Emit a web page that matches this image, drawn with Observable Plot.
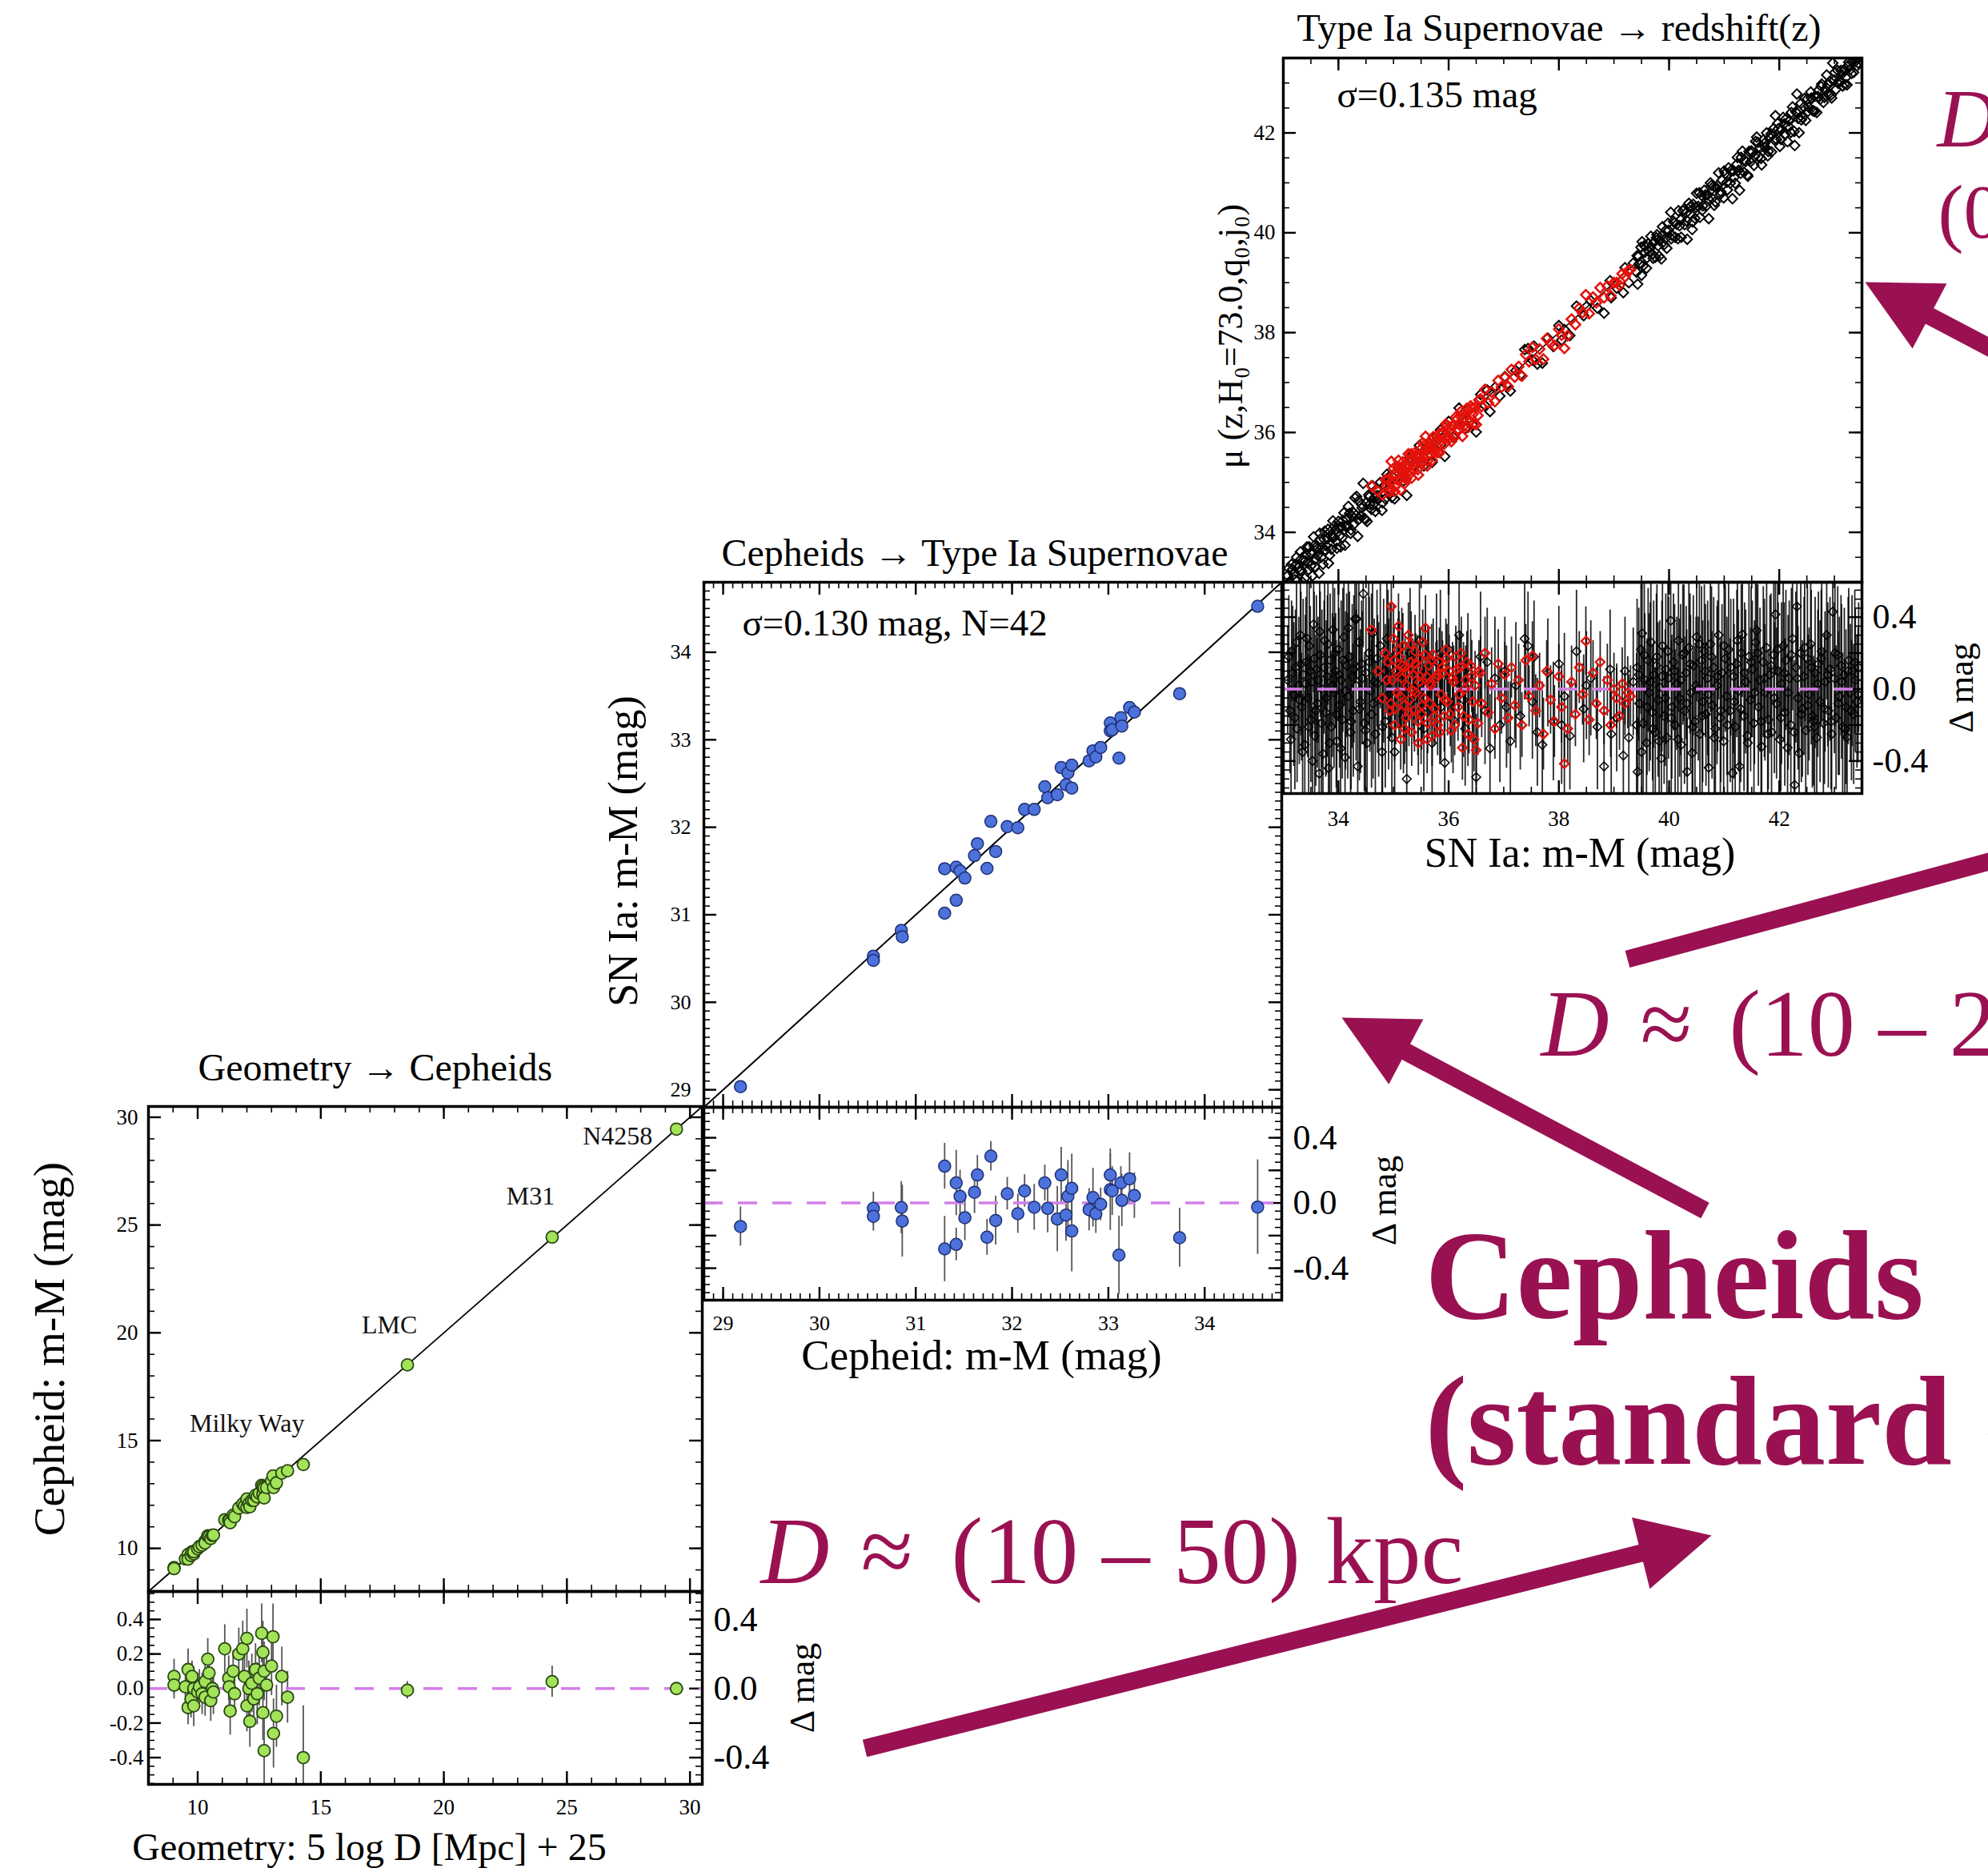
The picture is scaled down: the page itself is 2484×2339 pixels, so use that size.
<!DOCTYPE html>
<html><head><meta charset="utf-8">
<script src="https://cdn.jsdelivr.net/npm/d3@7"></script>
<script src="https://cdn.jsdelivr.net/npm/@observablehq/plot@0.6"></script>
<style>
html,body{margin:0;padding:0;background:#fff;}
#fig{position:relative;width:2484px;height:2339px;overflow:hidden;background:#fff;}
</style></head><body><div id="fig"></div>
<script>
// ---------------- DATA ----------------
// Panel 1: Geometry -> Cepheids  [geometric distance, residual, error]
const geoMilkyWay = [
[9.04,0.07,0.1],[9.04,0.02,0.08],[9.5,0.01,0.09],[9.61,0.11,0.12],[9.61,-0.11,0.1],[9.73,-0.06,0.11],[9.77,0.07,0.09],
[9.84,-0.1,0.12],[9.84,0.0,0.1],[10.0,-0.02,0.11],[10.07,0.01,0.1],[10.18,-0.03,0.12],[10.3,0.04,0.1],[10.3,-0.05,0.11],
[10.41,0.17,0.12],[10.46,0.09,0.1],[10.53,-0.07,0.12],[10.6,0.0,0.11],[10.64,-0.02,0.13],[11.1,0.23,0.14],[11.26,0.06,0.13],
[11.28,0.01,0.12],[11.32,-0.13,0.14],[11.44,0.1,0.12],[11.5,-0.03,0.13],[11.67,0.2,0.15],[11.83,0.23,0.16],[11.9,0.07,0.14],
[12.0,0.29,0.17],[12.0,-0.1,0.15],[12.08,0.0,0.16],[12.12,-0.19,0.15],[12.2,0.03,0.17],[12.28,-0.06,0.16],[12.35,0.11,0.15],
[12.42,-0.03,0.18],[12.5,0.06,0.16],[12.6,0.32,0.17],[12.65,0.21,0.18],[12.65,-0.14,0.16],[12.7,0.1,0.17],[12.7,-0.36,0.2],
[12.8,0.02,0.18],[13.0,0.13,0.17],[13.06,0.3,0.19],[13.08,-0.26,0.2],[13.2,-0.16,0.18],[13.42,0.07,0.17],[13.65,-0.05,0.15],
[14.29,-0.4,0.3]
];
const geoAnchors = [[18.52,-0.01,0.05],[24.4,0.04,0.09],[29.45,0.0,0.03]];
const geoLabelNames = ["N4258","M31","LMC","Milky Way"];
const geoLabelX = [28.48,24.51,18.92,14.34];
const geoLabelY = [28.74,25.94,19.96,15.39];

// Panel 2: Cepheids -> SN Ia  [Cepheid m-M, residual, error]
const cephSN = [
[29.18,-0.144,0.12],[30.56,-0.033,0.1],[30.56,-0.082,0.09],[30.85,-0.028,0.16],[30.86,-0.111,0.22],[31.3,0.226,0.14],
[31.3,-0.282,0.2],[31.42,0.123,0.2],[31.42,-0.254,0.1],[31.46,0.041,0.16],[31.51,-0.09,0.14],[31.61,0.066,0.13],
[31.64,0.172,0.12],[31.74,-0.21,0.11],[31.78,0.287,0.09],[31.83,-0.107,0.15],[31.95,0.057,0.1],[32.06,-0.066,0.12],
[32.13,0.074,0.1],[32.23,-0.026,0.14],[32.34,0.123,0.11],[32.37,-0.033,0.15],[32.47,-0.098,0.2],[32.51,0.172,0.17],
[32.56,-0.074,0.16],[32.58,0.041,0.22],[32.62,-0.172,0.25],[32.62,0.09,0.21],[32.8,-0.041,0.13],[32.84,0.033,0.18],
[32.87,-0.066,0.12],[32.92,-0.008,0.1],[33.02,0.172,0.13],[33.02,0.082,0.25],[33.04,0.074,0.15],[33.11,-0.32,0.24],
[33.13,0.123,0.1],[33.14,0.016,0.16],[33.22,0.148,0.16],[33.27,0.046,0.14],[33.74,-0.213,0.18],[34.55,-0.025,0.29]
];

// Panel 3: SN Ia -> redshift  [SN m-M, residual, error]
const snBlack = [
[33.08,0.05,0.3],[33.12,-0.12,0.35],[33.15,0.21,0.28],[33.19,-0.03,0.4],[33.22,0.12,0.32],[33.25,-0.22,0.3],[33.28,0.02,0.38],
[33.31,0.3,0.35],[33.33,-0.1,0.3],[33.36,0.08,0.42],[33.39,-0.31,0.3],[33.41,0.15,0.36],[33.44,-0.05,0.33],[33.47,0.24,0.4],
[33.5,-0.17,0.35],[33.52,0.04,0.3],[33.55,0.36,0.38],[33.57,-0.26,0.34],[33.6,0.11,0.41],[33.62,-0.08,0.36],[33.65,-0.47,0.3],
[33.67,0.19,0.35],[33.7,0.0,0.44],[33.72,-0.36,0.33],[33.75,0.27,0.38],[33.77,-0.13,0.36],[33.8,0.07,0.45],[33.82,-0.44,0.3],
[33.85,0.16,0.37],[33.87,-0.21,0.4],[33.9,0.33,0.36],[33.92,-0.02,0.42],[33.95,0.1,0.32],[33.97,-0.29,0.38],[34.0,0.22,0.4],
[34.02,-0.09,0.35],[34.05,0.05,0.44],[34.07,-0.17,0.33],[34.1,0.29,0.38],[34.12,-0.38,0.35],[34.15,0.13,0.4],[34.17,-0.04,0.46],
[34.2,0.18,0.36],[34.22,-0.24,0.34],[34.25,0.07,0.4],[34.27,-0.12,0.37],[34.3,0.39,0.36],[34.32,0.02,0.42],[34.35,-0.43,0.3],
[34.37,0.26,0.38],[34.4,-0.07,0.4],[34.42,0.14,0.35],[34.45,0.53,0.3],[34.47,-0.19,0.38],[34.5,0.09,0.42],[34.52,-0.3,0.36],
[34.55,0.2,0.4],[34.57,-0.01,0.34],[34.6,-0.14,0.41],[34.62,0.31,0.37],[34.65,0.04,0.35],[34.67,-0.25,0.4],[34.7,0.17,0.38],
[34.73,-0.06,0.43],[34.76,0.24,0.35],[34.79,-0.35,0.33],[34.82,0.1,0.4],[34.85,-0.18,0.37],[34.88,0.28,0.36],[34.91,-0.03,0.42],
[34.94,0.12,0.35],[34.97,-0.27,0.38],
[33.1,0.18,0.34],[33.14,-0.28,0.3],[33.17,0.09,0.37],[33.21,-0.16,0.4],[33.24,0.26,0.33],[33.29,-0.06,0.36],[33.32,0.14,0.4],
[33.35,-0.35,0.32],[33.4,0.03,0.38],[33.43,0.28,0.35],[33.46,-0.21,0.4],[33.49,0.1,0.36],[33.53,-0.4,0.3],[33.56,0.17,0.37],
[33.59,-0.12,0.42],[33.63,0.05,0.35],[33.66,0.32,0.33],[33.69,-0.19,0.4],[33.74,0.12,0.37],[33.78,-0.05,0.43],[33.81,0.25,0.34],
[33.84,-0.3,0.38],[33.89,0.02,0.4],[33.93,0.2,0.36],[33.96,-0.14,0.41],[34.01,0.08,0.37],[34.04,-0.33,0.33],[34.08,0.16,0.4],
[34.13,-0.01,0.44],[34.18,0.34,0.35],[34.23,-0.18,0.38],[34.28,0.11,0.41],[34.33,0.39,0.34],[34.38,-0.11,0.4],[34.43,0.06,0.37],
[34.49,-0.23,0.39],[34.56,0.15,0.36],[34.63,-0.08,0.42],[34.71,0.03,0.38],[34.8,-0.21,0.4],[34.9,0.19,0.36],
[35.02,-0.35,0.3],[35.1,0.08,0.35],[35.15,0.12,0.33],[35.18,-0.15,0.32],[35.24,-0.5,0.28],[35.3,0.2,0.36],[35.38,-0.05,0.3],
[35.47,0.27,0.33],[35.5,-0.12,0.3],[35.55,-0.22,0.35],[35.62,0.05,0.3],[35.7,-0.3,0.32],[35.78,0.15,0.38],[35.85,0.2,0.35],
[35.86,-0.1,0.3],[35.93,-0.41,0.3],[36.0,0.22,0.34],[36.08,-0.17,0.3],[36.19,0.3,0.35],[36.27,-0.06,0.32],[36.3,-0.22,0.32],
[36.35,0.12,0.3],[36.43,-0.27,0.33],[36.5,-0.49,0.28],[36.58,0.18,0.36],[36.66,-0.12,0.3],[36.7,0.15,0.3],[36.75,-0.33,0.3],
[36.84,0.06,0.34],[36.93,-0.2,0.32],[37.02,0.1,0.3],[37.05,-0.1,0.34],[37.12,-0.29,0.33],[37.22,0.02,0.35],[37.3,-0.15,0.3],
[37.38,0.28,0.34],[37.44,0.24,0.3],[37.52,-0.07,0.32],[37.55,0.18,0.31],[37.61,-0.24,0.3],[37.7,-0.31,0.35],[37.8,0.09,0.3],
[37.9,-0.18,0.33],[38.0,0.14,0.32],[38.05,-0.2,0.33],[38.1,-0.04,0.35],[38.2,-0.26,0.3],[38.32,0.21,0.34],[38.45,-0.11,0.3],
[38.5,0.02,0.3],[38.58,0.06,0.32],[38.7,-0.21,0.35],[38.82,-0.43,0.3],[38.93,0.11,0.33],[38.95,-0.25,0.34],[39.05,-0.16,0.3],
[39.17,-0.37,0.32],[39.2,0.1,0.3],[39.27,-0.27,0.35],[39.35,0.04,0.3],
[39.42,0.12,0.38],[39.43,-0.46,0.3],[39.46,-0.08,0.4],[39.49,0.22,0.36],[39.51,0.31,0.32],[39.53,-0.19,0.42],[39.56,0.05,0.37],
[39.59,-0.3,0.35],[39.62,0.16,0.4],[39.64,-0.02,0.44],[39.67,0.26,0.36],[39.7,-0.13,0.38],[39.72,0.08,0.41],[39.75,-0.24,0.36],
[39.78,0.18,0.4],[39.8,-0.06,0.43],[39.83,0.01,0.37],[39.86,-0.385,0.32],[39.88,0.24,0.4],[39.91,-0.15,0.38],[39.94,0.11,0.42],
[39.96,-0.27,0.36],[39.99,0.06,0.45],[40.03,0.38,0.34],[40.05,-0.1,0.4],[40.08,0.15,0.38],[40.11,-0.2,0.42],[40.14,0.03,0.37],
[40.17,0.27,0.4],[40.19,-0.05,0.44],[40.22,-0.31,0.35],[40.25,0.19,0.39],[40.28,-0.12,0.41],[40.31,0.09,0.37],[40.33,-0.46,0.3],
[40.36,0.23,0.4],[40.39,-0.02,0.43],[40.42,-0.356,0.33],[40.44,0.13,0.39],[40.47,-0.18,0.42],[40.5,0.29,0.36],[40.53,0.0,0.4],
[40.56,-0.25,0.38],[40.59,0.16,0.41],[40.61,-0.07,0.45],[40.64,0.21,0.37],[40.67,-0.14,0.4],[40.7,0.06,0.43],[40.72,-0.437,0.3],
[40.75,0.25,0.38],[40.78,-0.09,0.41],[40.81,0.12,0.39],[40.84,-0.22,0.4],[40.87,0.02,0.44],[40.9,0.3,0.36],[40.93,-0.16,0.42],
[40.96,0.09,0.38],[40.99,-0.29,0.36],[41.02,0.17,0.41],[41.05,-0.04,0.44],[41.08,0.22,0.37],[41.11,-0.12,0.4],[41.15,-0.467,0.3],
[41.17,0.07,0.43],[41.2,-0.21,0.38],[41.23,0.14,0.41],[41.26,-0.01,0.45],[41.28,-0.43,0.32],[41.31,0.2,0.38],[41.33,0.304,0.35],
[41.36,-0.15,0.42],[41.39,0.04,0.4],[41.42,-0.26,0.37],[41.45,0.18,0.43],[41.48,-0.06,0.4],[41.51,0.11,0.38],[41.54,-0.19,0.41],
[41.57,0.26,0.37],[41.59,0.326,0.34],[41.62,-0.1,0.44],[41.65,0.05,0.4],[41.68,-0.32,0.36],[41.71,0.15,0.42],[41.74,-0.02,0.38],
[41.77,0.23,0.41],[41.8,-0.17,0.39],[41.83,0.08,0.44],[41.86,-0.24,0.37],[41.9,0.19,0.4],[41.93,0.415,0.34],[41.95,-0.08,0.42],
[41.98,0.1,0.38],[42.01,-0.28,0.4],[42.04,0.03,0.45],[42.07,0.24,0.37],[42.1,-0.13,0.41],[42.12,0.16,0.39],[42.15,-0.326,0.34],
[42.18,0.06,0.43],[42.21,-0.2,0.38],[42.24,0.28,0.4],[42.28,-0.533,0.3],[42.3,0.12,0.42],[42.32,0.459,0.32],[42.34,-0.05,0.4],
[42.36,-0.356,0.34],[42.39,0.2,0.41],[42.42,-0.11,0.38],[42.45,0.07,0.44],[42.48,-0.23,0.39],[42.51,0.17,0.41],[42.54,-0.03,0.37],
[42.57,0.25,0.43],[42.6,-0.15,0.4],[42.62,-0.178,0.36],[42.65,0.09,0.42],[42.68,-0.27,0.38],[42.71,0.14,0.4],[42.74,-0.07,0.45],
[42.77,0.21,0.38],[42.8,-0.19,0.41],[42.83,0.04,0.39],[42.86,0.3,0.36],[42.89,-0.12,0.43],[42.92,0.11,0.4],[42.95,-0.25,0.38],
[42.97,0.43,0.32],[43.0,0.06,0.42],[43.03,-0.16,0.4],[43.06,0.19,0.38],[43.09,-0.04,0.44],[43.12,0.13,0.39],[43.15,-0.21,0.41],
[43.18,0.08,0.37],[43.21,-0.1,0.43],[43.23,-0.267,0.35],[43.26,0.16,0.4],[43.29,-0.02,0.38],[43.32,0.1,0.42],[43.35,-0.14,0.39],
[43.38,0.05,0.4],[43.41,-0.07,0.37],[43.44,0.12,0.36],
[39.41,-0.2,0.4],[39.45,0.08,0.37],[39.5,-0.35,0.34],[39.55,0.19,0.41],[39.6,-0.1,0.38],[39.66,0.04,0.44],[39.71,-0.22,0.39],
[39.77,0.13,0.4],[39.82,-0.29,0.36],[39.87,0.07,0.42],[39.93,-0.05,0.38],[39.98,0.21,0.4],[40.04,-0.16,0.43],[40.1,0.1,0.37],
[40.16,-0.28,0.4],[40.21,0.05,0.42],[40.27,0.2,0.38],[40.32,-0.08,0.41],[40.38,0.14,0.39],[40.43,-0.21,0.42],[40.49,0.02,0.38],
[40.55,0.25,0.4],[40.6,-0.15,0.43],[40.66,0.1,0.37],[40.71,-0.03,0.41],[40.77,0.18,0.39],[40.82,-0.27,0.36],[40.88,0.07,0.42],
[40.94,-0.12,0.4],[41.0,0.24,0.37],[41.06,-0.2,0.41],[41.12,0.12,0.38],[41.18,-0.07,0.43],[41.24,0.27,0.36],[41.3,-0.11,0.41],
[41.37,0.09,0.39],[41.43,-0.3,0.37],[41.49,0.15,0.42],[41.55,-0.02,0.4],[41.61,0.2,0.38],[41.67,-0.18,0.41],[41.73,0.06,0.44],
[41.79,-0.25,0.37],[41.85,0.13,0.4],[41.91,-0.05,0.42],[41.97,0.22,0.38],[42.03,-0.16,0.41],[42.09,0.09,0.39],[42.16,-0.02,0.43],
[42.22,0.19,0.37],[42.27,-0.24,0.4],[42.33,0.06,0.42],[42.4,-0.14,0.38],[42.46,0.23,0.41],[42.52,-0.09,0.39],[42.58,0.12,0.43],
[42.64,-0.21,0.37],[42.7,0.03,0.41],[42.76,0.17,0.38],[42.82,-0.11,0.42],[42.88,0.08,0.4],[42.94,-0.18,0.38],[43.01,0.2,0.41],
[43.07,-0.08,0.4],[43.13,0.04,0.43],[43.19,-0.22,0.38],[43.25,0.1,0.41],[43.31,-0.12,0.39],[43.37,0.15,0.4],[43.43,-0.03,0.38]
];
const snRed = [
[34.6,0.33,0.2],[34.72,0.1,0.18],[34.8,-0.05,0.2],[34.85,0.2,0.16],[34.9,0.15,0.2],[34.93,-0.12,0.17],[34.96,0.459,0.18],
[34.98,0.05,0.2],[35.0,0.28,0.19],[35.02,-0.2,0.2],[35.05,0.1,0.17],[35.07,-0.02,0.2],[35.09,0.35,0.18],[35.11,0.18,0.2],
[35.13,-0.28,0.17],[35.15,0.06,0.2],[35.17,0.24,0.18],[35.19,-0.09,0.2],[35.21,0.12,0.17],[35.23,-0.16,0.19],[35.25,0.02,0.2],
[35.27,0.3,0.18],[35.29,-0.06,0.2],[35.31,0.15,0.17],[35.33,-0.24,0.19],[35.35,0.08,0.2],[35.37,-0.12,0.18],[35.39,0.21,0.2],
[35.41,-0.02,0.17],[35.43,0.11,0.19],[35.45,-0.3,0.18],[35.47,0.04,0.2],[35.49,0.17,0.17],[35.51,-0.14,0.2],[35.53,0.26,0.18],
[35.55,-0.05,0.19],[35.58,0.34,0.18],[35.6,0.07,0.2],[35.62,-0.19,0.17],[35.64,0.13,0.2],[35.66,-0.08,0.18],[35.68,0.02,0.19],
[35.7,-0.26,0.17],[35.72,0.19,0.2],[35.75,-0.11,0.18],[35.77,0.06,0.2],[35.8,-0.2,0.17],[35.83,0.15,0.19],[35.86,-0.03,0.2],
[35.89,0.09,0.18],[35.92,-0.15,0.2],[35.95,0.22,0.17],[35.98,-0.07,0.19],[36.01,0.1,0.2],[36.05,-0.23,0.18],[36.09,0.04,0.2],
[36.13,0.18,0.17],[36.17,-0.1,0.19],[36.21,0.12,0.2],[36.25,-0.326,0.18],[36.29,0.0,0.2],[36.33,0.15,0.17],[36.37,-0.17,0.19],
[36.42,0.07,0.2],[36.46,-0.28,0.18],[36.5,-0.34,0.2],[36.55,0.1,0.17],[36.6,-0.08,0.19],[36.66,0.2,0.2],[36.72,-0.13,0.18],
[36.78,0.03,0.2],[36.84,-0.22,0.17],[36.9,0.14,0.19],[36.96,-0.05,0.2],[37.02,0.08,0.18],[37.08,-0.16,0.2],[37.14,0.12,0.17],
[37.2,-0.09,0.19],[37.27,0.05,0.2],[37.33,-0.2,0.18],[37.4,0.16,0.2],[37.46,-0.04,0.17],[37.52,0.185,0.19],[37.58,-0.12,0.2],
[37.65,0.02,0.18],[37.72,-0.25,0.2],[37.78,0.1,0.17],[37.85,-0.06,0.19],[37.92,-0.18,0.2],[38.0,0.07,0.18],[38.05,-0.1,0.2],
[38.1,-0.415,0.17],[38.16,-0.22,0.19],[38.23,0.04,0.2],[38.3,-0.14,0.18],[38.37,0.12,0.2],[38.43,-0.03,0.17],[38.49,0.267,0.19],
[38.55,-0.17,0.2],[38.62,0.09,0.18],[38.68,-0.08,0.2],[38.75,0.15,0.17],[38.82,-0.12,0.19],[38.88,0.05,0.2],[38.94,-0.2,0.18],
[39.0,0.0,0.2],[39.05,-0.05,0.17],[39.1,-0.15,0.19],[39.15,0.03,0.2],[39.2,-0.08,0.18],[39.25,-0.02,0.2],[39.3,-0.04,0.17],
[34.88,0.05,0.17],[34.95,-0.08,0.19],[35.01,0.16,0.18],[35.04,-0.11,0.2],[35.08,0.22,0.17],[35.12,-0.04,0.19],[35.16,0.13,0.18],
[35.2,-0.22,0.2],[35.24,0.09,0.17],[35.28,-0.13,0.19],[35.32,0.25,0.18],[35.36,-0.01,0.2],[35.4,0.14,0.17],[35.44,-0.18,0.19],
[35.48,0.07,0.18],[35.52,-0.09,0.2],[35.57,0.19,0.17],[35.61,-0.28,0.19],[35.65,0.03,0.18],[35.69,0.16,0.2],[35.74,-0.15,0.17],
[35.79,0.08,0.19],[35.84,-0.24,0.18],[35.88,0.12,0.2],[35.93,-0.06,0.17],[35.97,0.17,0.19],[36.03,-0.14,0.18],[36.07,0.06,0.2],
[36.11,-0.2,0.17],[36.15,0.11,0.19],[36.19,-0.03,0.18],[36.23,0.2,0.2],[36.27,-0.15,0.17],[36.31,0.05,0.19],[36.35,-0.25,0.18],
[36.4,0.13,0.2],[36.44,-0.07,0.17],[36.48,0.02,0.19],[36.53,-0.19,0.18],[36.58,0.09,0.2]
];

// axis domains & tick labels
const p1Domain = [8, 30.5], p1Resid = [-0.555, 0.562];
const p2Domain = [28.8, 34.8], p2Resid = [-0.596, 0.587];
const p3Domain = [33, 43.5], p3Resid = [-0.581, 0.594];
const p1Ticks = [10, 15, 20, 25, 30];
const p2Ticks = [29, 30, 31, 32, 33, 34];
const p3Ticks = [34, 36, 38, 40, 42];
const residTicksLeft = [-0.4, -0.2, 0, 0.2, 0.4];
const residTicksRight = [-0.4, 0, 0.4];

const titles = ["Geometry \u2192 Cepheids", "Cepheids \u2192 Type Ia Supernovae", "Type Ia Supernovae \u2192 redshift(z)"];
const sigmaTexts = ["\u03c3=0.130 mag, N=42", "\u03c3=0.135 mag"];

// annotation (magenta) texts & arrows, page pixel coordinates
const annotTexts = [
  {text: "D", x: 2420, y: 182, size: 104, style: "italic"},
  {text: "(0.05 \u2013 1.5) Gpc", x: 2421, y: 296, size: 96},
  {text: "D", x: 1925, y: 1318, size: 118, style: "italic"},
  {text: "\u2248", x: 2049, y: 1318, size: 118},
  {text: "(10 \u2013 20) Mpc", x: 2160, y: 1318, size: 118},
  {text: "Cepheids", x: 1780, y: 1646, size: 158, weight: "bold"},
  {text: "(standard candles)", x: 1780, y: 1828, size: 158, weight: "bold"},
  {text: "D", x: 950, y: 1977, size: 119, style: "italic"},
  {text: "\u2248", x: 1075, y: 1977, size: 119},
  {text: "(10 \u2013 50)", x: 1188, y: 1977, size: 119},
  {text: "kpc", x: 1656, y: 1977, size: 119}
];
const annotArrows = [
  {id: "a1", tail: [2600, 494], tip: [2330, 352]},
  {id: "a2", tail: [2033, 1198], tip: [2700, 1018]},
  {id: "a3", tail: [2130, 1512], tip: [1676, 1271]},
  {id: "a4", tail: [1080, 2184], tip: [2138, 1918]}
];

// ---------------- STYLE ----------------
const FONT = "'Liberation Serif','Times New Roman',serif";
const MAGENTA = "#9a1152";
const VIOLET = "#d47fe8";
const GREEN = "#a2e35a", GREEN_EDGE = "#2a4712";
const BLUE = "#4d72db", BLUE_EDGE = "#1d2f73";
const RED = "#e3120b";
const fig = document.getElementById("fig");

function inDom(vals, dom) { return vals.filter(v => v >= dom[0] - 1e-9 && v <= dom[1] + 1e-9); }

function frameTicks(W, H, xDom, yDom, xMaj, xMin, yMaj, yMin) {
  const marks = [];
  const specs = [[xMaj, yMaj, 16, 2.4], [xMin, yMin, 8, 1.6]];
  for (const [xv, yv, len, sw] of specs) {
    const xs = inDom(xv, xDom), ys = inDom(yv, yDom);
    marks.push(Plot.tickX(xs, {x: d => d, insetTop: H - len, stroke: "#000", strokeWidth: sw}));
    marks.push(Plot.tickX(xs, {x: d => d, insetBottom: H - len, stroke: "#000", strokeWidth: sw}));
    marks.push(Plot.tickY(ys, {y: d => d, insetRight: W - len, stroke: "#000", strokeWidth: sw}));
    marks.push(Plot.tickY(ys, {y: d => d, insetLeft: W - len, stroke: "#000", strokeWidth: sw}));
  }
  return marks;
}

function panel({frame, xDomain, yDomain, m, marks}) {
  const [x0, y0, x1, y1] = frame;
  const W = x1 - x0, H = y1 - y0;
  const [mt, mr, mb, ml] = m;
  const svg = Plot.plot({
    width: W + ml + mr, height: H + mt + mb,
    marginTop: mt, marginRight: mr, marginBottom: mb, marginLeft: ml,
    x: {domain: xDomain, axis: null}, y: {domain: yDomain, axis: null},
    style: `background:transparent;overflow:visible;font-family:${FONT};font-size:27px;color:#000;max-width:none;position:absolute;`,
    marks: marks(W, H)
  });
  svg.style.left = (x0 - ml) + "px";
  svg.style.top = (y0 - mt) + "px";
  fig.append(svg);
}

const f1 = d => d[0];
const resFmt = d => d.toFixed(1);
const residMinor = d3.range(-12, 13).map(i => i * 0.05);
const residMajor = [-0.4, -0.2, 0, 0.2, 0.4];
const vTitle = (str, opts) => Plot.text([str], {text: d => d, rotate: -90, textAnchor: "middle", lineAnchor: "middle", ...opts});
const hTitle = (str, opts) => Plot.text([str], {text: d => d, textAnchor: "middle", lineAnchor: "middle", ...opts});

// ---------- Panel 1 main ----------
const p1Minor = d3.range(8, 31);
panel({frame: [185, 1382, 877, 1988], xDomain: p1Domain, yDomain: p1Domain, m: [90, 20, 10, 185],
  marks: (W, H) => [
    ...frameTicks(W, H, p1Domain, p1Domain, p1Ticks, p1Minor, p1Ticks, p1Minor),
    Plot.line(p1Domain, {x: d => d, y: d => d, stroke: "#000", strokeWidth: 1.8}),
    Plot.dot(geoMilkyWay.concat(geoAnchors), {x: f1, y: d => d[0] + d[1], r: 7.5, fill: GREEN, stroke: GREEN_EDGE, strokeWidth: 1.8}),
    Plot.text(geoLabelNames, {x: (d, i) => geoLabelX[i], y: (d, i) => geoLabelY[i], text: d => d, textAnchor: "end", lineAnchor: "bottom", fontSize: 32, fill: "#111"}),
    Plot.axisY({anchor: "left", ticks: p1Ticks, tickSize: 0, tickPadding: 13, fontSize: 27, label: null, tickFormat: d => String(d)}),
    Plot.frame({stroke: "#000", strokeWidth: 3.5}),
    Plot.text([titles[0]], {text: d => d, frameAnchor: "top-left", textAnchor: "start", lineAnchor: "bottom", dx: 62, dy: -33, fontSize: 48}),
    vTitle("Cepheid: m-M (mag)", {frameAnchor: "left", dx: -123, dy: 0, fontSize: 55})
  ]});

// ---------- Panel 1 residual ----------
panel({frame: [185, 1988, 877, 2229], xDomain: p1Domain, yDomain: p1Resid, m: [10, 180, 110, 185],
  marks: (W, H) => [
    ...frameTicks(W, H, p1Domain, p1Resid, p1Ticks, p1Minor, residMajor, residMinor),
    Plot.ruleX(geoMilkyWay.concat(geoAnchors), {x: f1, y1: d => d[1] - d[2], y2: d => d[1] + d[2], stroke: "#555", strokeWidth: 1.8, clip: true}),
    Plot.ruleY([0], {stroke: VIOLET, strokeWidth: 3.5, strokeDasharray: "24,19"}),
    Plot.dot(geoMilkyWay.concat(geoAnchors), {x: f1, y: d => d[1], r: 7.5, fill: GREEN, stroke: GREEN_EDGE, strokeWidth: 1.8}),
    Plot.frame({stroke: "#000", strokeWidth: 3.5}),
    Plot.axisY({anchor: "left", ticks: residTicksLeft, tickSize: 0, tickPadding: 6, fontSize: 27, label: null, tickFormat: resFmt}),
    Plot.axisY({anchor: "right", ticks: residTicksRight, tickSize: 0, tickPadding: 14, fontSize: 44, label: null, tickFormat: resFmt}),
    Plot.axisX({anchor: "bottom", ticks: p1Ticks, tickSize: 0, tickPadding: 18, fontSize: 27, label: null, tickFormat: d => String(d)}),
    vTitle("\u0394 mag", {frameAnchor: "right", dx: 125, fontSize: 44}),
    hTitle("Geometry: 5 log D [Mpc] + 25", {frameAnchor: "bottom", dx: -70, dy: 79, fontSize: 48})
  ]});

// ---------- Panel 2 main ----------
const p2Minor = d3.range(288, 349).map(i => i / 10);
panel({frame: [879, 727, 1601, 1383], xDomain: p2Domain, yDomain: p2Domain, m: [60, 10, 10, 140],
  marks: (W, H) => [
    ...frameTicks(W, H, p2Domain, p2Domain, p2Ticks, p2Minor, p2Ticks, p2Minor),
    Plot.line(p2Domain, {x: d => d, y: d => d, stroke: "#000", strokeWidth: 2}),
    Plot.dot(cephSN, {x: f1, y: d => d[0] + d[1], r: 7.5, fill: BLUE, stroke: BLUE_EDGE, strokeWidth: 1.5}),
    Plot.axisY({anchor: "left", ticks: p2Ticks, tickSize: 0, tickPadding: 16, fontSize: 26, label: null, tickFormat: d => String(d)}),
    Plot.frame({stroke: "#000", strokeWidth: 3.5}),
    Plot.text([titles[1]], {text: d => d, frameAnchor: "top-left", textAnchor: "start", lineAnchor: "bottom", dx: 22, dy: -21, fontSize: 48}),
    Plot.text([sigmaTexts[0]], {text: d => d, frameAnchor: "top-left", textAnchor: "start", lineAnchor: "bottom", dx: 48, dy: 66, fontSize: 47}),
    vTitle("SN Ia: m-M (mag)", {frameAnchor: "left", dx: -100, dy: 8, fontSize: 52})
  ]});

// ---------- Panel 2 residual ----------
panel({frame: [879, 1383, 1601, 1624], xDomain: p2Domain, yDomain: p2Resid, m: [10, 160, 110, 20],
  marks: (W, H) => [
    ...frameTicks(W, H, p2Domain, p2Resid, p2Ticks, p2Minor, residMajor, residMinor),
    Plot.ruleX(cephSN, {x: f1, y1: d => d[1] - d[2], y2: d => d[1] + d[2], stroke: "#555", strokeWidth: 1.8, clip: true}),
    Plot.ruleY([0], {stroke: VIOLET, strokeWidth: 3.5, strokeDasharray: "24,19"}),
    Plot.dot(cephSN, {x: f1, y: d => d[1], r: 7.5, fill: BLUE, stroke: BLUE_EDGE, strokeWidth: 1.5}),
    Plot.frame({stroke: "#000", strokeWidth: 3.5}),
    Plot.axisY({anchor: "right", ticks: residTicksRight, tickSize: 0, tickPadding: 14, fontSize: 44, label: null, tickFormat: resFmt}),
    Plot.axisX({anchor: "bottom", ticks: p2Ticks, tickSize: 0, tickPadding: 19, fontSize: 26, label: null, tickFormat: d => String(d)}),
    vTitle("\u0394 mag", {frameAnchor: "right", dx: 128, dy: -4, fontSize: 44}),
    hTitle("Cepheid: m-M (mag)", {frameAnchor: "bottom", dx: -14, dy: 70, fontSize: 53})
  ]});

// ---------- Panel 3 main ----------
const p3Minor = d3.range(66, 88).map(i => i / 2);
panel({frame: [1603, 72, 2326, 727], xDomain: p3Domain, yDomain: p3Domain, m: [72, 10, 10, 100],
  marks: (W, H) => [
    ...frameTicks(W, H, p3Domain, p3Domain, p3Ticks, p3Minor, p3Ticks, p3Minor),
    Plot.line(p3Domain, {x: d => d, y: d => d, stroke: "#000", strokeWidth: 1.6}),
    Plot.dot(snBlack, {x: f1, y: d => d[0] + d[1], symbol: "diamond2", r: 5.5, fill: "none", stroke: "#000", strokeWidth: 2, clip: true}),
    Plot.dot(snRed, {x: f1, y: d => d[0] + d[1], symbol: "diamond2", r: 5.5, fill: "none", stroke: RED, strokeWidth: 2.5, clip: true}),
    Plot.axisY({anchor: "left", ticks: p3Ticks, tickSize: 0, tickPadding: 10, fontSize: 27, label: null, tickFormat: d => String(d)}),
    Plot.frame({stroke: "#000", strokeWidth: 3.5}),
    Plot.text([titles[2]], {text: d => d, frameAnchor: "top-left", textAnchor: "start", lineAnchor: "bottom", dx: 17, dy: -22, fontSize: 48}),
    Plot.text([sigmaTexts[1]], {text: d => d, frameAnchor: "top-left", textAnchor: "start", lineAnchor: "bottom", dx: 67, dy: 61, fontSize: 47}),
    vTitle("\u03bc (z,H\u2080=73.0,q\u2080,j\u2080)", {frameAnchor: "left", dx: -66, dy: 20, fontSize: 44})
  ]});

// ---------- Panel 3 residual ----------
panel({frame: [1603, 727, 2326, 991], xDomain: p3Domain, yDomain: p3Resid, m: [10, 158, 110, 20],
  marks: (W, H) => [
    ...frameTicks(W, H, p3Domain, p3Resid, p3Ticks, p3Minor, residMajor, residMinor),
    Plot.ruleX(snBlack.concat(snRed), {x: f1, y1: d => d[1] - d[2], y2: d => d[1] + d[2], stroke: "#000", strokeWidth: 1.8, strokeOpacity: 0.85, clip: true}),
    Plot.dot(snBlack, {x: f1, y: d => d[1], symbol: "diamond2", r: 5, fill: "none", stroke: "#000", strokeWidth: 1.5, clip: true}),
    Plot.ruleY([0], {stroke: VIOLET, strokeWidth: 3.5, strokeDasharray: "24,19"}),
    Plot.dot(snRed, {x: f1, y: d => d[1], symbol: "diamond2", r: 5, fill: "none", stroke: RED, strokeWidth: 2.4, clip: true}),
    Plot.frame({stroke: "#000", strokeWidth: 3.5}),
    Plot.axisY({anchor: "right", ticks: residTicksRight, tickSize: 0, tickPadding: 13, fontSize: 44, label: null, tickFormat: resFmt}),
    Plot.axisX({anchor: "bottom", ticks: p3Ticks, tickSize: 0, tickPadding: 21, fontSize: 27, label: null, tickFormat: d => String(d)}),
    vTitle("\u0394 mag", {frameAnchor: "right", dx: 124, fontSize: 44}),
    hTitle("SN Ia: m-M (mag)", {frameAnchor: "bottom", dx: 9, dy: 75, fontSize: 52})
  ]});

// ---------- Annotation overlay ----------
const HEAD_LEN = 91, HEAD_HALF = 46;
const shafts = [], heads = [];
for (const a of annotArrows) {
  const [tx, ty] = a.tail, [px, py] = a.tip;
  const L = Math.hypot(px - tx, py - ty), ux = (px - tx) / L, uy = (py - ty) / L;
  const bx = px - ux * HEAD_LEN, by = py - uy * HEAD_LEN;
  shafts.push({x1: tx, y1: ty, x2: px - ux * (HEAD_LEN - 12), y2: py - uy * (HEAD_LEN - 12)});
  heads.push({id: a.id, x: px, y: py}, {id: a.id, x: bx - uy * HEAD_HALF, y: by + ux * HEAD_HALF}, {id: a.id, x: bx + uy * HEAD_HALF, y: by - ux * HEAD_HALF});
}
const overlay = Plot.plot({
  width: 2484, height: 2339, margin: 0,
  x: {domain: [0, 2484], axis: null}, y: {domain: [2339, 0], axis: null},
  style: `background:transparent;overflow:hidden;font-family:${FONT};max-width:none;position:absolute;left:0;top:0;`,
  marks: [
    Plot.link(shafts, {x1: "x1", y1: "y1", x2: "x2", y2: "y2", stroke: MAGENTA, strokeWidth: 22, strokeLinecap: "butt"}),
    Plot.line(heads, {x: "x", y: "y", z: "id", fill: MAGENTA, stroke: "none"}),
    ...annotTexts.map(t => Plot.text([t], {x: "x", y: "y", text: "text", textAnchor: "start", lineAnchor: "bottom",
      fontSize: t.size, fontStyle: t.style || "normal", fontWeight: t.weight || "normal", fill: MAGENTA}))
  ]
});
fig.append(overlay);
</script></body></html>
